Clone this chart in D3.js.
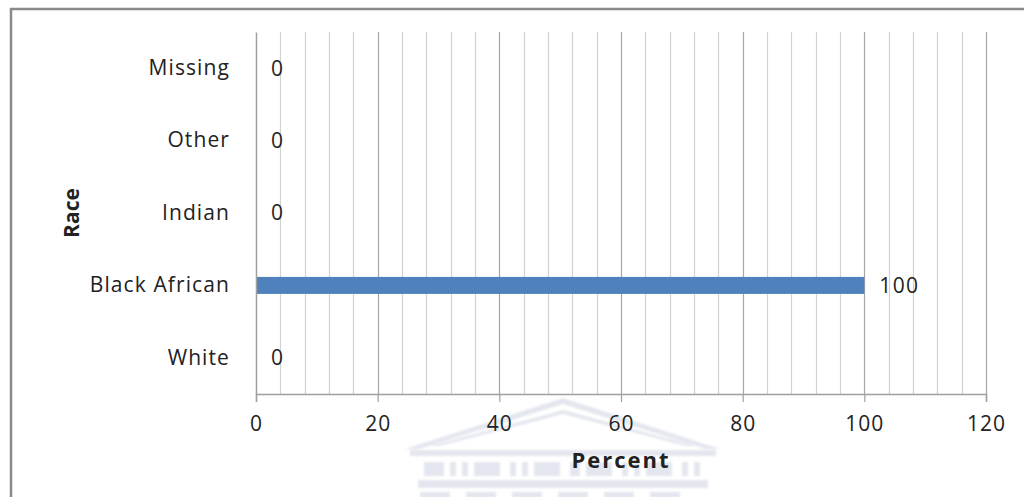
<!DOCTYPE html>
<html>
<head>
<meta charset="utf-8">
<script src="https://cdn.jsdelivr.net/npm/d3@7"></script>
<style>
  html, body { margin: 0; padding: 0; background: #fff; }
  svg { display: block; }
  text { font-family: "Open Sans", "DejaVu Sans", sans-serif; fill: #222; }
</style>
</head>
<body>
<svg id="chart" width="1024" height="497"></svg>
<script>
// Race distribution (percent)
const categories = ["Missing", "Other", "Indian", "Black African", "White"];
const values = [0, 0, 0, 100, 0];
const xTicks = [0, 20, 40, 60, 80, 100, 120];
const xTitle = "Percent";
const yTitle = "Race";

const W = 1024, H = 497;
const margin = { left: 256, right: 38, top: 32, bottom: 103 };
const svg = d3.select("#chart");

svg.append("defs").append("filter").attr("id", "soft")
  .append("feGaussianBlur").attr("stdDeviation", 0.8);

// Outer chart frame (extends past the bottom/right of the view)
svg.append("path")
  .attr("d", `M11,${H + 5} V9 H${W + 5}`)
  .attr("fill", "none")
  .attr("stroke", "#8a8a8a")
  .attr("stroke-width", 2.5);

// Faint crest watermark behind the axis title
const wm = svg.append("g").attr("fill", "#e3e6ee").attr("stroke", "none").attr("filter", "url(#soft)");
wm.append("path").attr("d", "M405,449 L563,398 L720,449 L706,449 L563,404 L419,449 Z");
wm.append("path").attr("d", "M430,446 L563,410 L696,446 L686,446 L563,414 L440,446 Z");
wm.append("rect").attr("x", 410).attr("y", 450).attr("width", 306).attr("height", 6);
[[424,462,20],[450,462,6],[462,462,6],[474,462,26],[510,462,6],[522,462,6],[534,462,26],
 [570,462,10],[586,462,26],[622,462,6],[634,462,6],[646,462,26],[682,462,6],[694,462,6]]
  .forEach(([x, y, w]) => wm.append("rect").attr("x", x).attr("y", y).attr("width", w).attr("height", 14));
wm.append("rect").attr("x", 418).attr("y", 480).attr("width", 290).attr("height", 8);
[[420,492,30],[466,492,30],[512,492,30],[558,492,30],[604,492,30],[650,492,30]]
  .forEach(([x, y, w]) => wm.append("rect").attr("x", x).attr("y", y).attr("width", w).attr("height", 6));

const x = d3.scaleLinear().domain([0, 120]).range([margin.left, W - margin.right]);
const y = d3.scaleBand().domain(categories).range([margin.top, H - margin.bottom]).paddingInner(0.765).paddingOuter(0.382);
const plotTop = margin.top, plotBottom = H - margin.bottom;

// Minor and major vertical gridlines
const minorTicks = d3.range(4, 121, 4).filter(v => v % 20 !== 0);
svg.append("g").selectAll("line").data(minorTicks).join("line")
  .attr("x1", d => Math.round(x(d)) + 0.5).attr("x2", d => Math.round(x(d)) + 0.5)
  .attr("y1", plotTop).attr("y2", plotBottom)
  .attr("stroke", "#d2d2d2").attr("stroke-width", 1.2);
svg.append("g").selectAll("line").data(xTicks.filter(v => v > 0)).join("line")
  .attr("x1", d => Math.round(x(d)) + 0.5).attr("x2", d => Math.round(x(d)) + 0.5)
  .attr("y1", plotTop).attr("y2", plotBottom)
  .attr("stroke", "#a6a6a6").attr("stroke-width", 1.2);

// Bars
svg.append("g").selectAll("rect").data(categories).join("rect")
  .attr("x", x(0))
  .attr("y", d => y(d))
  .attr("width", (d, i) => x(values[i]) - x(0))
  .attr("height", y.bandwidth())
  .attr("fill", "#4f81bd");

// Value labels
svg.append("g").selectAll("text").data(categories).join("text")
  .attr("x", (d, i) => x(values[i]) + 15)
  .attr("y", d => y(d) + y.bandwidth() / 2)
  .attr("dy", "0.35em")
  .attr("font-size", 21)
  .attr("letter-spacing", 1.3)
  .text((d, i) => values[i]);

// X axis
const xAxis = svg.append("g")
  .attr("transform", `translate(0,${plotBottom})`)
  .call(d3.axisBottom(x).tickValues(xTicks).tickSize(8).tickPadding(14));
xAxis.select(".domain").attr("stroke", "#a0a0a0").attr("stroke-width", 1.5);
xAxis.selectAll(".tick line").attr("stroke", "#a0a0a0").attr("stroke-width", 1.2);
xAxis.selectAll(".tick text")
  .attr("font-size", 21).attr("letter-spacing", 1)
  .attr("font-family", "'Open Sans', sans-serif").attr("fill", "#222");

// Y axis
const yAxis = svg.append("g")
  .attr("transform", `translate(${margin.left},0)`)
  .call(d3.axisLeft(y).tickSize(0).tickPadding(26));
yAxis.select(".domain").attr("stroke", "#a0a0a0").attr("stroke-width", 1.5);
yAxis.selectAll(".tick text")
  .attr("font-size", 21).attr("letter-spacing", 1.1)
  .attr("font-family", "'Open Sans', sans-serif").attr("fill", "#222");

// Axis titles
svg.append("text")
  .attr("x", (x(0) + x(120)) / 2)
  .attr("y", 468)
  .attr("text-anchor", "middle")
  .attr("font-size", 22).attr("font-weight", "bold").attr("letter-spacing", 2)
  .attr("fill", "#111")
  .text(xTitle);
svg.append("text")
  .attr("transform", `translate(79,${(plotTop + plotBottom) / 2}) rotate(-90)`)
  .attr("text-anchor", "middle")
  .attr("font-size", 21).attr("font-weight", "bold")
  .attr("fill", "#111")
  .text(yTitle);
</script>
</body>
</html>
